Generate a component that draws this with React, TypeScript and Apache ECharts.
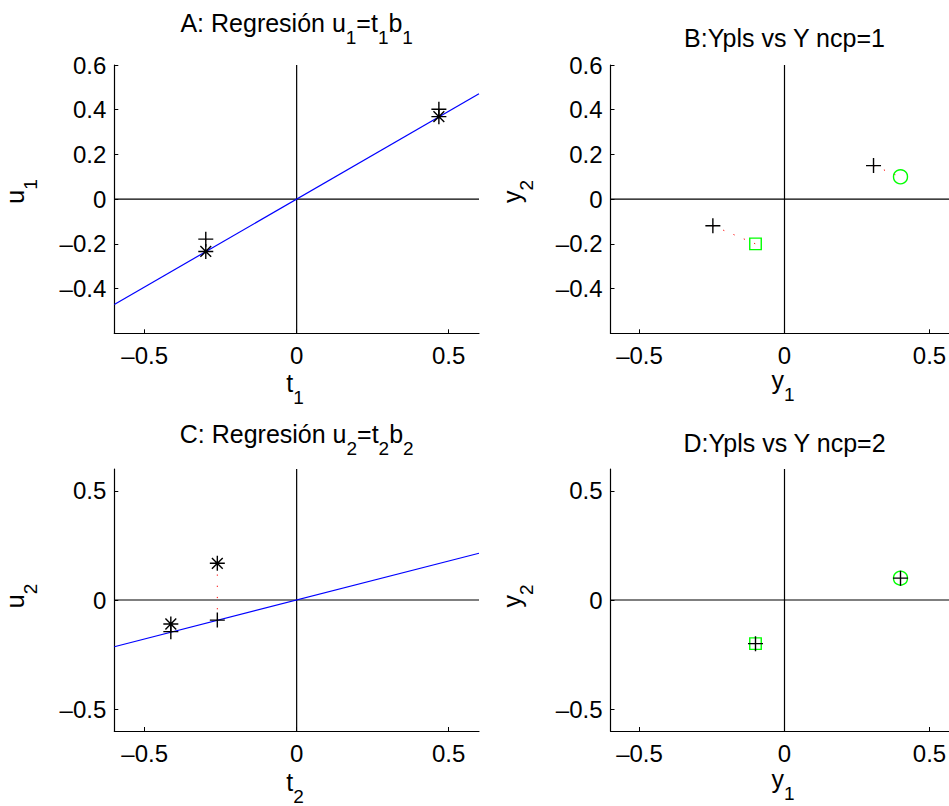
import React, { useEffect, useRef } from "react";
import * as echarts from "echarts";

// Tick positions shared by the panels
const xTicks = [-0.5, 0, 0.5];
const yTicksTop = [-0.4, -0.2, 0, 0.2, 0.4, 0.6];
const yTicksBottom = [-0.5, 0, 0.5];

// Panel A: first PLS component, u1 against t1
const t1 = [-0.299, 0.468];
const u1 = [-0.179, 0.402];
const u1Fit = [-0.234, 0.369];
const fitA_x = [-0.6, 0.6];
const fitA_y = [-0.471, 0.471];

// Panel C: second PLS component, u2 against t2
const t2 = [-0.414, -0.261];
const u2 = [-0.11, 0.168];
const u2Fit = [-0.145, -0.092];
const fitC_x = [-0.6, 0.6];
const fitC_y = [-0.214, 0.214];

// Observed responses (y1, y2)
const yObs1 = [0.4, -0.1];
const yObs2 = [0.1, -0.2];

// Predicted responses with one and two components
const yHat1_x = [0.307, -0.247];
const yHat1_y = [0.15, -0.119];
const yHat2_x = [0.4, -0.1];
const yHat2_y = [0.1, -0.2];

const FONT = '"Liberation Sans", Arial, Helvetica, sans-serif';
const TICK_FS = 24;

const grids = [
  { left: 114.3, top: 65, width: 364.7, height: 268.3 },
  { left: 610.5, top: 65, width: 348, height: 268.3 },
  { left: 114.3, top: 469, width: 364.7, height: 262 },
  { left: 610.5, top: 469, width: 348, height: 262 },
];

const fmt = (v: number) => (v < 0 ? "\u2013" + String(-v) : String(v));

const richStyles = {
  m: { fontSize: 25, fontFamily: FONT, lineHeight: 28, verticalAlign: "top", fill: "#000" },
  s: {
    fontSize: 19,
    fontFamily: FONT,
    lineHeight: 20,
    verticalAlign: "top",
    padding: [18, 0, 0, 0],
    fill: "#000",
  },
};

function label(text: string, x: number, y: number, rotation = 0) {
  return {
    type: "text",
    x,
    y,
    rotation,
    silent: true,
    style: {
      text,
      rich: richStyles,
      textAlign: "center",
      textVerticalAlign: "top",
      fill: "#000",
    },
  };
}

function xAxis(i: number) {
  return {
    gridIndex: i,
    type: "value",
    min: -0.6,
    max: 0.6,
    position: "bottom",
    axisLine: { show: true, onZero: false, lineStyle: { color: "#000", width: 1.2 } },
    axisTick: { show: true, inside: true, length: 4, customValues: xTicks, lineStyle: { color: "#000" } },
    axisLabel: {
      customValues: xTicks,
      formatter: fmt,
      fontSize: TICK_FS,
      fontFamily: FONT,
      color: "#000",
      margin: 10,
    },
    splitLine: { show: false },
  };
}

function yAxis(i: number, ticks: number[]) {
  return {
    gridIndex: i,
    type: "value",
    min: -0.6,
    max: 0.6,
    position: "left",
    axisLine: { show: true, onZero: false, lineStyle: { color: "#000", width: 1.2 } },
    axisTick: { show: true, inside: true, length: 4, customValues: ticks, lineStyle: { color: "#000" } },
    axisLabel: {
      customValues: ticks,
      formatter: fmt,
      fontSize: TICK_FS,
      fontFamily: FONT,
      color: "#000",
      margin: 8,
    },
    splitLine: { show: false },
  };
}

function segment(i: number, pts: number[][], color: string, width: number, type: any = "solid", z = 2) {
  return {
    type: "line",
    xAxisIndex: i,
    yAxisIndex: i,
    data: pts,
    symbol: "none",
    silent: true,
    z,
    lineStyle: { color, width, type },
  };
}

const PLUS = "path://M0,-1L0,1M-1,0L1,0";
const STAR = "path://M0,-1L0,1M-1,0L1,0M-0.72,-0.72L0.72,0.72M-0.72,0.72L0.72,-0.72";

function markers(i: number, xs: number[], ys: number[], symbol: string, size: number, color: string, z = 5) {
  return {
    type: "scatter",
    xAxisIndex: i,
    yAxisIndex: i,
    data: xs.map((x, k) => [x, ys[k]]),
    symbol,
    symbolSize: size,
    silent: true,
    z,
    itemStyle: { color: "transparent", borderColor: color, borderWidth: 1.4, opacity: 1 },
  };
}

function zeroLines(i: number) {
  return [
    segment(i, [[-0.6, 0], [0.6, 0]], "#000", 1.2, "solid", 1),
    segment(i, [[0, -0.6], [0, 0.6]], "#000", 1.2, "solid", 1),
  ];
}

const RED_DOTS = [1.2, 10];

function buildOption() {
  const series: any[] = [];

  // A
  series.push(...zeroLines(0));
  series.push(segment(0, fitA_x.map((x, k) => [x, fitA_y[k]]), "#0000ff", 1.2));
  t1.forEach((t, k) => series.push(segment(0, [[t, u1[k]], [t, u1Fit[k]]], "#ff0000", 1, RED_DOTS, 3)));
  series.push(markers(0, t1, u1Fit, STAR, 15, "#000"));
  series.push(markers(0, t1, u1, PLUS, 15, "#000"));

  // B
  series.push(...zeroLines(1));
  yObs1.forEach((v, k) =>
    series.push(segment(1, [[yHat1_x[k], yHat1_y[k]], [v, yObs2[k]]], "#ff0000", 1, RED_DOTS, 3))
  );
  series.push(markers(1, [yObs1[0]], [yObs2[0]], "circle", 14, "#00ff00"));
  series.push(markers(1, [yObs1[1]], [yObs2[1]], "rect", 11.5, "#00ff00"));
  series.push(markers(1, yHat1_x, yHat1_y, PLUS, 15, "#000", 6));

  // C
  series.push(...zeroLines(2));
  series.push(segment(2, fitC_x.map((x, k) => [x, fitC_y[k]]), "#0000ff", 1.2));
  t2.forEach((t, k) => series.push(segment(2, [[t, u2[k]], [t, u2Fit[k]]], "#ff0000", 1, RED_DOTS, 3)));
  series.push(markers(2, t2, u2, STAR, 15, "#000"));
  series.push(markers(2, t2, u2Fit, PLUS, 15, "#000"));

  // D
  series.push(...zeroLines(3));
  yObs1.forEach((v, k) =>
    series.push(segment(3, [[yHat2_x[k], yHat2_y[k]], [v, yObs2[k]]], "#ff0000", 1, RED_DOTS, 3))
  );
  series.push(markers(3, [yObs1[0]], [yObs2[0]], "circle", 14, "#00ff00"));
  series.push(markers(3, [yObs1[1]], [yObs2[1]], "rect", 11.5, "#00ff00"));
  series.push(markers(3, yHat2_x, yHat2_y, PLUS, 15, "#000", 6));

  const graphic = [
    // titles
    label("{m|A: Regresión u}{s|1}{m|=t}{s|1}{m|b}{s|1}", 296.7, 10),
    label("{m|B:Ypls vs Y ncp=1}", 784.5, 25.2),
    label("{m|C: Regresión u}{s|2}{m|=t}{s|2}{m|b}{s|2}", 296.7, 421),
    label("{m|D:Ypls vs Y ncp=2}", 784.5, 430),
    // x-axis names
    label("{m|t}{s|1}", 295, 370),
    label("{m|y}{s|1}", 783, 367),
    label("{m|t}{s|2}", 295, 769),
    label("{m|y}{s|1}", 783, 766),
    // y-axis names
    label("{m|u}{s|1}", 2.5, 191.5, Math.PI / 2),
    label("{m|y}{s|2}", 499, 191.5, Math.PI / 2),
    label("{m|u}{s|2}", 2.5, 596, Math.PI / 2),
    label("{m|y}{s|2}", 499, 596, Math.PI / 2),
  ];

  return {
    animation: false,
    backgroundColor: "#fff",
    grid: grids.map((g) => ({ ...g, containLabel: false, outerBoundsMode: "none" })),
    xAxis: [0, 1, 2, 3].map(xAxis),
    yAxis: [yAxis(0, yTicksTop), yAxis(1, yTicksTop), yAxis(2, yTicksBottom), yAxis(3, yTicksBottom)],
    series,
    graphic,
  };
}

export default function App() {
  const ref = useRef<HTMLDivElement>(null);
  useEffect(() => {
    if (!ref.current) return;
    const chart = echarts.init(ref.current, undefined, { renderer: "svg" });
    chart.setOption(buildOption() as any);
    return () => chart.dispose();
  }, []);
  return (
    <div
      ref={ref}
      style={{ position: "fixed", left: 0, top: 0, width: 949, height: 806, background: "#fff" }}
    />
  );
}
